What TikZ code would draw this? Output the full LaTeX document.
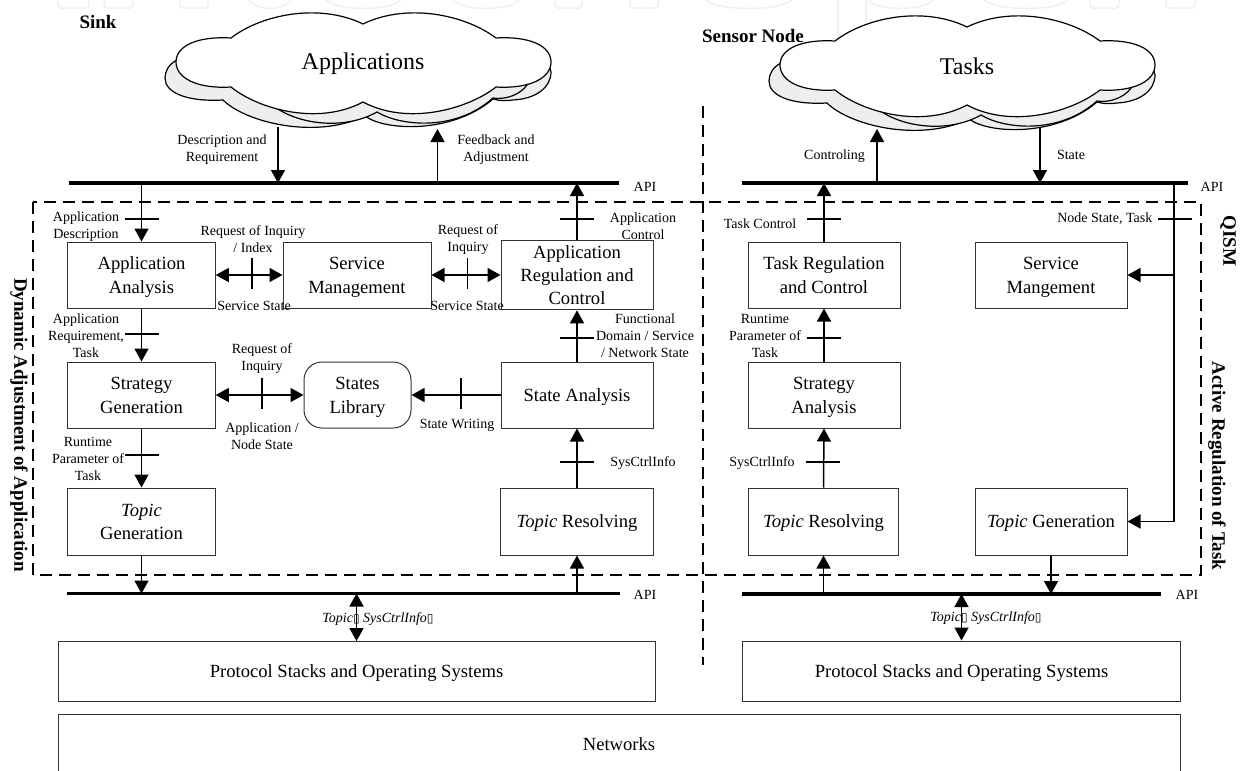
\documentclass[tikz,border=0pt]{standalone}
\usepackage{fontspec}
\setmainfont{Liberation Serif}
\newfontfamily\tofufont{DejaVu Sans}
\usetikzlibrary{arrows.meta,calc}
\definecolor{wm}{HTML}{F0F0F0}
\definecolor{cloudgrey}{HTML}{EEEEEE}
\definecolor{boxline}{HTML}{333333}
\newcommand{\frontcloud}{(231,38) .. controls (262,14) and (320,3) .. (363,24)
 .. controls (406,3) and (464,14) .. (496,38)
 .. controls (530,36) and (551,46) .. (551,62)
 .. controls (551,78) and (530,89) .. (496,87)
 .. controls (468,109) and (408,126) .. (363,102)
 .. controls (318,126) and (258,109) .. (231,87)
 .. controls (197,89) and (176,78) .. (176,62)
 .. controls (176,46) and (197,36) .. (231,38) -- cycle}
\newcommand{\backleft}{(177,60) .. controls (169,64) and (165,71) .. (165,78)
 .. controls (165,92) and (185,102) .. (223,100)
 .. controls (245,122) and (315,140) .. (365,116) -- (365,90) -- cycle}
\newcommand{\backright}{(365,116) .. controls (385,131) and (452,134) .. (493,99)
 .. controls (500,101) and (506,101) .. (513,100)
 .. controls (535,99) and (551,88) .. (551,72) -- (548,60) -- (400,80) -- cycle}
\newcommand{\backmid}{(275,107) .. controls (300,125) and (345,130) .. (377,112)
 .. controls (400,126) and (455,132) .. (493,98)
 .. controls (505,100) and (520,95) .. (527,85) -- (500,60) -- (300,70) -- cycle}
\newcommand{\drawcloud}{%
 \draw[cloudback] \backleft;
 \draw[cloudback] \backright;
 \draw[cloudback] \backmid;
 \draw[cloudfront] \frontcloud;}
\newcommand{\ticH}[2]{\draw[tickline] (#1,#2) ++(-17,0) -- ++(34,0);}
\newcommand{\ticV}[2]{\draw[tickline] (#1,#2) ++(0,-15.5) -- ++(0,31);}
\newcommand{\wmU}[2]{\draw[wmline,rounded corners=3pt] (#1,-2) -- (#1,8) -- (#2,8) -- (#2,-2);}
\newcommand{\wmO}[2]{\draw[wmline] (#1,-2) .. controls ($(#1,-2)+(6,14)$) and ($(#2,-2)+(-6,14)$) .. (#2,-2);}
\newcommand{\bt}[1]{\raisebox{-1.8pt}[\height][\depth]{\begin{tabular}{@{}c@{}}#1\end{tabular}}}
\newcommand{\tofu}{{\tofufont\fontsize{12}{12}\selectfont ▯}}
\tikzset{
 x=1pt,y=-1pt,
 >={Triangle[length=13pt,width=14pt]},
 arr/.style={->,line width=1.5pt,black},
 darr/.style={<->,line width=1.5pt,black},
 bus/.style={line width=3.2pt,black},
 tickline/.style={line width=1.5pt,black},
 bigbox/.style={draw=boxline,line width=1pt,fill=white,inner sep=0pt,
   font=\fontsize{18.6}{23.2}\selectfont},
 lab/.style={align=center,inner sep=0pt,yshift=-1.2pt,font=\fontsize{14}{17}\selectfont},
 cloudtxt/.style={align=center,inner sep=0pt,font=\fontsize{24}{28}\selectfont},
 title/.style={align=center,inner sep=0pt,font=\fontsize{19}{22}\selectfont\bfseries},
 vtitle/.style={title,rotate=-90},
 dashline/.style={line width=1.5pt,black,dash pattern=on 12pt off 7pt},
 cloudback/.style={draw=black,line width=1.2pt,fill=cloudgrey},
 cloudfront/.style={draw=black,line width=1.2pt,fill=white},
 wmline/.style={draw=wm,line width=1.5pt},
}
\begin{document}
\begin{tikzpicture}
\useasboundingbox[fill=white] (0,0) rectangle (1245,771);
% watermark remains
\wmU{58}{89}\wmU{104}{133}\wmU{180}{208}\wmO{248}{292}\wmO{325}{402}\wmO{452}{520}
\wmU{555}{582}\wmU{630}{658}\wmO{705}{793}\wmO{867}{934}\wmO{983}{1070}\wmU{1090}{1119}\wmU{1166}{1195}
\draw[wmline] (838,-2) -- (838,40);
\draw[wmline] (866,-2) -- (866,30);

% clouds
\drawcloud
\begin{scope}[shift={(604,3)}]
\drawcloud
\end{scope}
\node[cloudtxt] (apps) at (363,64) {Applications};
\node[cloudtxt] (tasks) at (967,66) {Tasks};

% titles
\node[title] (sink) at (98,22) {Sink};
\node[title] (sensor) at (753,36) {Sensor Node};
\node[vtitle] (dyn) at (19,425) {Dynamic Adjustment of Application};
\node[vtitle] (act) at (1217,466) {Active Regulation of Task};
\node[vtitle] (qism) at (1228,241) {QISM};

% dashed frames
\coordinate (fA) at (33,202);
\coordinate (fB) at (1201,575);
\draw[dashline] (fA) rectangle (fB);
\coordinate (sepA) at (703,106);
\coordinate (sepB) at (703,665);
\draw[dashline] (sepA) -- (sepB);

% buses
\coordinate (tlA) at (69,183); \coordinate (tlB) at (619,183);
\coordinate (trA) at (742,183); \coordinate (trB) at (1187.5,183);
\coordinate (blA) at (67,593.5); \coordinate (blB) at (620,593.5);
\coordinate (brA) at (742,594); \coordinate (brB) at (1161,594);
\draw[bus] (tlA) -- (tlB);
\draw[bus] (trA) -- (trB);
\draw[bus] (blA) -- (blB);
\draw[bus] (brA) -- (brB);
\node[lab] (api1) at (645,186) {API};
\node[lab] (api2) at (1212,186) {API};
\node[lab] (api3) at (645,593.5) {API};
\node[lab] (api4) at (1187,594) {API};

% boxes, left
\node[bigbox,minimum width=147.5pt,minimum height=66pt] (aa) at (141.5,275) {\bt{Application\\Analysis}};
\node[bigbox,minimum width=148pt,minimum height=66pt] (sm) at (357,275) {\bt{Service\\Management}};
\node[bigbox,minimum width=152pt,minimum height=66pt] (arc) at (577,275) {\bt{Application\\Regulation and\\Control}};
\node[bigbox,minimum width=147.5pt,minimum height=66pt] (sg) at (141.5,395) {\bt{Strategy\\Generation}};
\node[bigbox,rounded corners=18pt,minimum width=107pt,minimum height=66pt] (sl) at (357.5,395) {\bt{States\\Library}};
\node[bigbox,minimum width=152pt,minimum height=66pt] (sa) at (577,395) {\bt{State Analysis}};
\node[bigbox,minimum width=147.5pt,minimum height=67pt] (tg) at (141.5,521.5) {\bt{\textit{Topic}\\Generation}};
\node[bigbox,minimum width=153pt,minimum height=67pt] (tr) at (577,521.5) {\bt{\textit{Topic} Resolving}};
% boxes, right
\node[bigbox,minimum width=152pt,minimum height=66pt] (trc) at (824,275) {\bt{Task Regulation\\and Control}};
\node[bigbox,minimum width=152pt,minimum height=66pt] (sm2) at (1051,275) {\bt{Service\\Mangement}};
\node[bigbox,minimum width=152pt,minimum height=66pt] (san) at (824,395) {\bt{Strategy\\Analysis}};
\node[bigbox,minimum width=150pt,minimum height=67pt] (tr2) at (823.5,521.5) {\bt{\textit{Topic} Resolving}};
\node[bigbox,minimum width=152pt,minimum height=67pt] (tg2) at (1051,521.5) {\bt{\textit{Topic} Generation}};
% bottom
\node[bigbox,minimum width=597pt,minimum height=59.5pt] (ps1) at (356.5,671.3) {\bt{Protocol Stacks and Operating Systems}};
\node[bigbox,minimum width=438.2pt,minimum height=60pt] (ps2) at (961.5,671) {\bt{Protocol Stacks and Operating Systems}};
\coordinate (netA) at (58,714); \coordinate (netB) at (1180,776);
\draw[draw=boxline,line width=1pt] (netA) rectangle (netB);
\node[inner sep=0pt,font=\fontsize{18.6}{23}\selectfont] (net) at (619,744) {Networks};

% top connectors
\coordinate (descTop) at (278,127);
\coordinate (fbTop) at (437.5,129);
\coordinate (ctlTop) at (877,129);
\coordinate (stTop) at (1040,127);
\draw[arr] (descTop) -- (descTop |- tlA);
\draw[arr] (fbTop |- tlA) -- (fbTop);
\draw[arr] (ctlTop |- trA) -- (ctlTop);
\draw[arr] (stTop) -- (stTop |- trA);
\draw[arr] (aa.north |- tlA) -- (aa.north);
\draw[arr] (arc.north) -- (arc.north |- tlA);
\draw[arr] (trc.north) -- (trc.north |- trA);
% state tap
\coordinate (tap) at (1174,183);
\draw[arr] (tap |- sm2.east) -- (sm2.east);
\draw[arr] (tap) |- (tg2.east);
% left column
\draw[arr] (aa.south) -- (sg.north);
\draw[arr] (sg.south) -- (tg.north);
\draw[arr] (tg.south) -- (tg.south |- blA);
\draw[arr] (tr.south |- blA) -- (tr.south);
\draw[arr] (tr.north) -- (sa.south);
\draw[arr] (sa.north) -- (arc.south);
\draw[darr] (aa.east) -- (sm.west);
\draw[darr] (sm.east) -- (arc.west);
\draw[darr] (sg.east) -- (sl.west);
\draw[arr] (sa.west) -- (sl.east);
% right column
\draw[arr] (san.north) -- (trc.south);
\draw[arr] (tr2.north) -- (san.south);
\draw[arr] (tr2.south |- brA) -- (tr2.south);
\draw[arr] (tg2.south) -- (tg2.south |- brA);
% protocol links
\draw[darr] (ps1.north |- blA) -- (ps1.north);
\draw[darr] (ps2.north |- brA) -- (ps2.north);

% ticks
\ticH{142}{219}\ticH{577}{219}\ticH{142}{334}\ticH{577}{338}\ticH{142}{455}\ticH{577}{462}
\ticH{824}{219}\ticH{1175}{219}\ticH{824}{338}\ticH{823}{462}
\ticV{252}{273.5}\ticV{467.5}{273.5}\ticV{262}{393.5}\ticV{461}{393.5}

% labels
\node[lab] (l1) at (222,148.5) {Description and\\Requirement};
\node[lab] (l2) at (496,148.5) {Feedback and\\Adjustment};
\node[lab] (l3) at (834.5,155) {Controling};
\node[lab] (l4) at (1071,154) {State};
\node[lab] (l5) at (86,225) {Application\\Description};
\node[lab] (l6) at (253,238) {Request of Inquiry\\/ Index};
\node[lab] (l7) at (254,304.5) {Service State};
\node[lab] (l8) at (468,238) {Request of\\Inquiry};
\node[lab] (l9) at (467,305) {Service State};
\node[lab] (l10) at (643,225) {Application\\Control};
\node[lab] (l11) at (86,334.5) {Application\\Requirement,\\Task};
\node[lab] (l12) at (262,357.5) {Request of\\Inquiry};
\node[lab] (l13) at (262,435) {Application /\\Node State};
\node[lab] (l14) at (457,424) {State Writing};
\node[lab] (l15) at (645,334.5) {Functional\\Domain / Service\\/ Network State};
\node[lab] (l16) at (88,458) {Runtime\\Parameter of\\Task};
\node[lab] (l17) at (643,462) {SysCtrlInfo};
\node[lab] (l18) at (760,223) {Task Control};
\node[lab,anchor=east] (l19) at (1152.5,218) {Node State, Task};
\node[lab] (l20) at (765,334.5) {Runtime\\Parameter of\\Task};
\node[lab] (l21) at (762,461.5) {SysCtrlInfo};
\node[lab] (l22) at (378,618) {\textit{Topic}\tofu\ \textit{SysCtrlInfo}\tofu};
\node[lab] (l23) at (986,617) {\textit{Topic}\tofu\ \textit{SysCtrlInfo}\tofu};
\end{tikzpicture}
\end{document}
